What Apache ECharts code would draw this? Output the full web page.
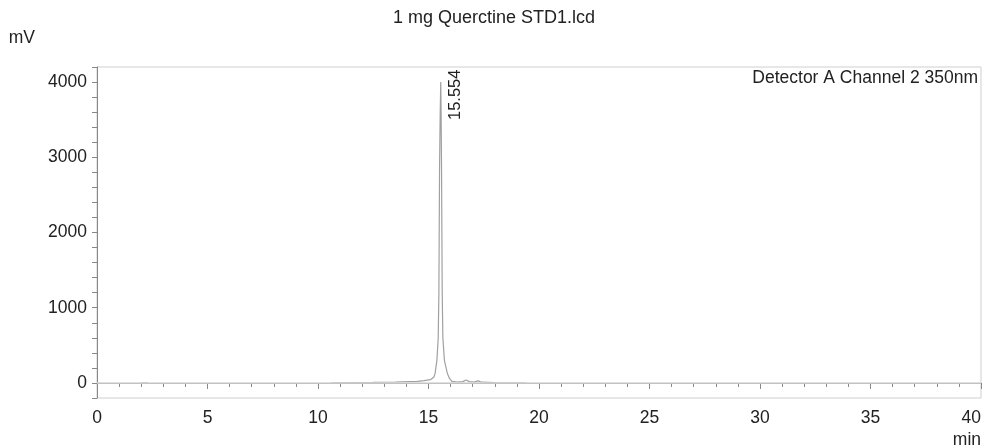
<!DOCTYPE html>
<html>
<head>
<meta charset="utf-8">
<script src="https://cdn.jsdelivr.net/npm/echarts@6/dist/echarts.min.js"></script>
<style>
  html, body { margin: 0; padding: 0; background: #fff; }
  #main { width: 982px; height: 448px; }
</style>
</head>
<body>
<div id="main"></div>
<script>
// chromatogram trace (min, mV)
var retentionTime = [10.6, 12.5, 13.5, 14.5, 14.8, 15.1, 15.25, 15.3, 15.38, 15.44, 15.47, 15.5, 15.53, 15.554,
    15.57, 15.59, 15.62, 15.65, 15.72, 15.85, 15.95, 16.06, 16.3, 16.55, 16.7, 16.85, 17.05, 17.25, 17.4, 18.0, 19.4];
var signal = [3, 8, 12, 20, 30, 45, 80, 130, 300, 600, 1200, 2850, 3600, 4000,
    3600, 2850, 1200, 600, 300, 130, 60, 20, 12, 18, 40, 18, 12, 28, 10, 5, 3];
// small blip near 2 min
var blipTime = [2.0, 2.3];
var blipSignal = [0, 0];
// peak annotation
var peakTime = 15.554;
var peakHeight = 4000;
var yLabels = [0, 1000, 2000, 3000, 4000];

function zip(xs, ys) {
    var res = [];
    for (var i = 0; i < xs.length; i++) {
        res.push([xs[i], ys[i]]);
    }
    return res;
}

var myChart = echarts.init(document.getElementById('main'));
var font = 'Liberation Sans, Arial, sans-serif';

var option = {
    animation: false,
    backgroundColor: '#fff',
    title: {
        text: '1 mg Querctine STD1.lcd',
        left: 388,
        top: 4,
        textStyle: { fontFamily: font, fontSize: 18, fontWeight: 'normal', color: '#222' }
    },
    legend: {
        data: [{ name: 'Detector A Channel 2 350nm', icon: 'none' }],
        right: -1,
        top: 64,
        itemWidth: 0,
        itemGap: 0,
        selectedMode: false,
        textStyle: { fontFamily: font, fontSize: 17.5, color: '#222' }
    },
    grid: {
        left: 97,
        right: 1,
        top: 67,
        bottom: 50,
        outerBoundsMode: 'none',
        containLabel: false,
        show: true,
        borderColor: '#cfcfcf',
        borderWidth: 1
    },
    xAxis: {
        type: 'value',
        min: 0,
        max: 40,
        interval: 5,
        name: 'min',
        nameLocation: 'end',
        nameGap: 0,
        nameMoveOverlap: false,
        nameTextStyle: {
            fontFamily: font, fontSize: 17.5, color: '#222',
            align: 'right', verticalAlign: 'top', padding: [48, 0, 0, 0]
        },
        axisLine: { lineStyle: { color: '#888' } },
        axisTick: { show: true, length: 6, lineStyle: { color: '#888' } },
        minorTick: { show: true, splitNumber: 5, length: 4, lineStyle: { color: '#888' } },
        axisLabel: { fontFamily: font, fontSize: 17.5, color: '#222', margin: 11, alignMaxLabel: 'right' },
        splitLine: { show: false }
    },
    yAxis: {
        type: 'value',
        min: -200,
        max: 4200,
        interval: 200,
        name: 'mV',
        nameLocation: 'end',
        nameGap: 20,
        nameTextStyle: {
            fontFamily: font, fontSize: 17.5, color: '#222',
            align: 'right', padding: [0, 62, 0, 0]
        },
        axisLine: { show: true, lineStyle: { color: '#888' } },
        axisTick: { show: true, length: 5, lineStyle: { color: '#888' } },
        axisLabel: {
            fontFamily: font, fontSize: 17.5, color: '#222', margin: 10,
            formatter: function (v) {
                return yLabels.indexOf(v) >= 0 ? String(v) : '';
            }
        },
        splitLine: { show: false }
    },
    series: [
        {
            name: 'Detector A Channel 2 350nm',
            type: 'line',
            data: zip(retentionTime, signal),
            showSymbol: false,
            lineStyle: { color: '#a0a0a0', width: 1.2 },
            itemStyle: { color: '#a0a0a0' },
            markLine: {
                silent: true,
                symbol: 'none',
                label: { show: false },
                lineStyle: { color: '#d6d6d6', type: 'solid', width: 1.5 },
                data: [{ yAxis: 0 }]
            },
            markPoint: {
                symbol: 'circle',
                symbolSize: 0,
                data: [{ coord: [peakTime, peakHeight], value: peakTime.toFixed(3) }],
                label: {
                    show: true,
                    formatter: '{c}',
                    rotate: 90,
                    position: [15, 38],
                    align: 'left',
                    verticalAlign: 'middle',
                    fontFamily: font,
                    fontSize: 16.5,
                    color: '#222'
                }
            },
            z: 3
        },
        {
            name: 'blip',
            type: 'line',
            data: zip(blipTime, blipSignal),
            showSymbol: false,
            lineStyle: { color: '#999', width: 1.2 },
            z: 3
        }
    ]
};
myChart.setOption(option);
</script>
</body>
</html>
